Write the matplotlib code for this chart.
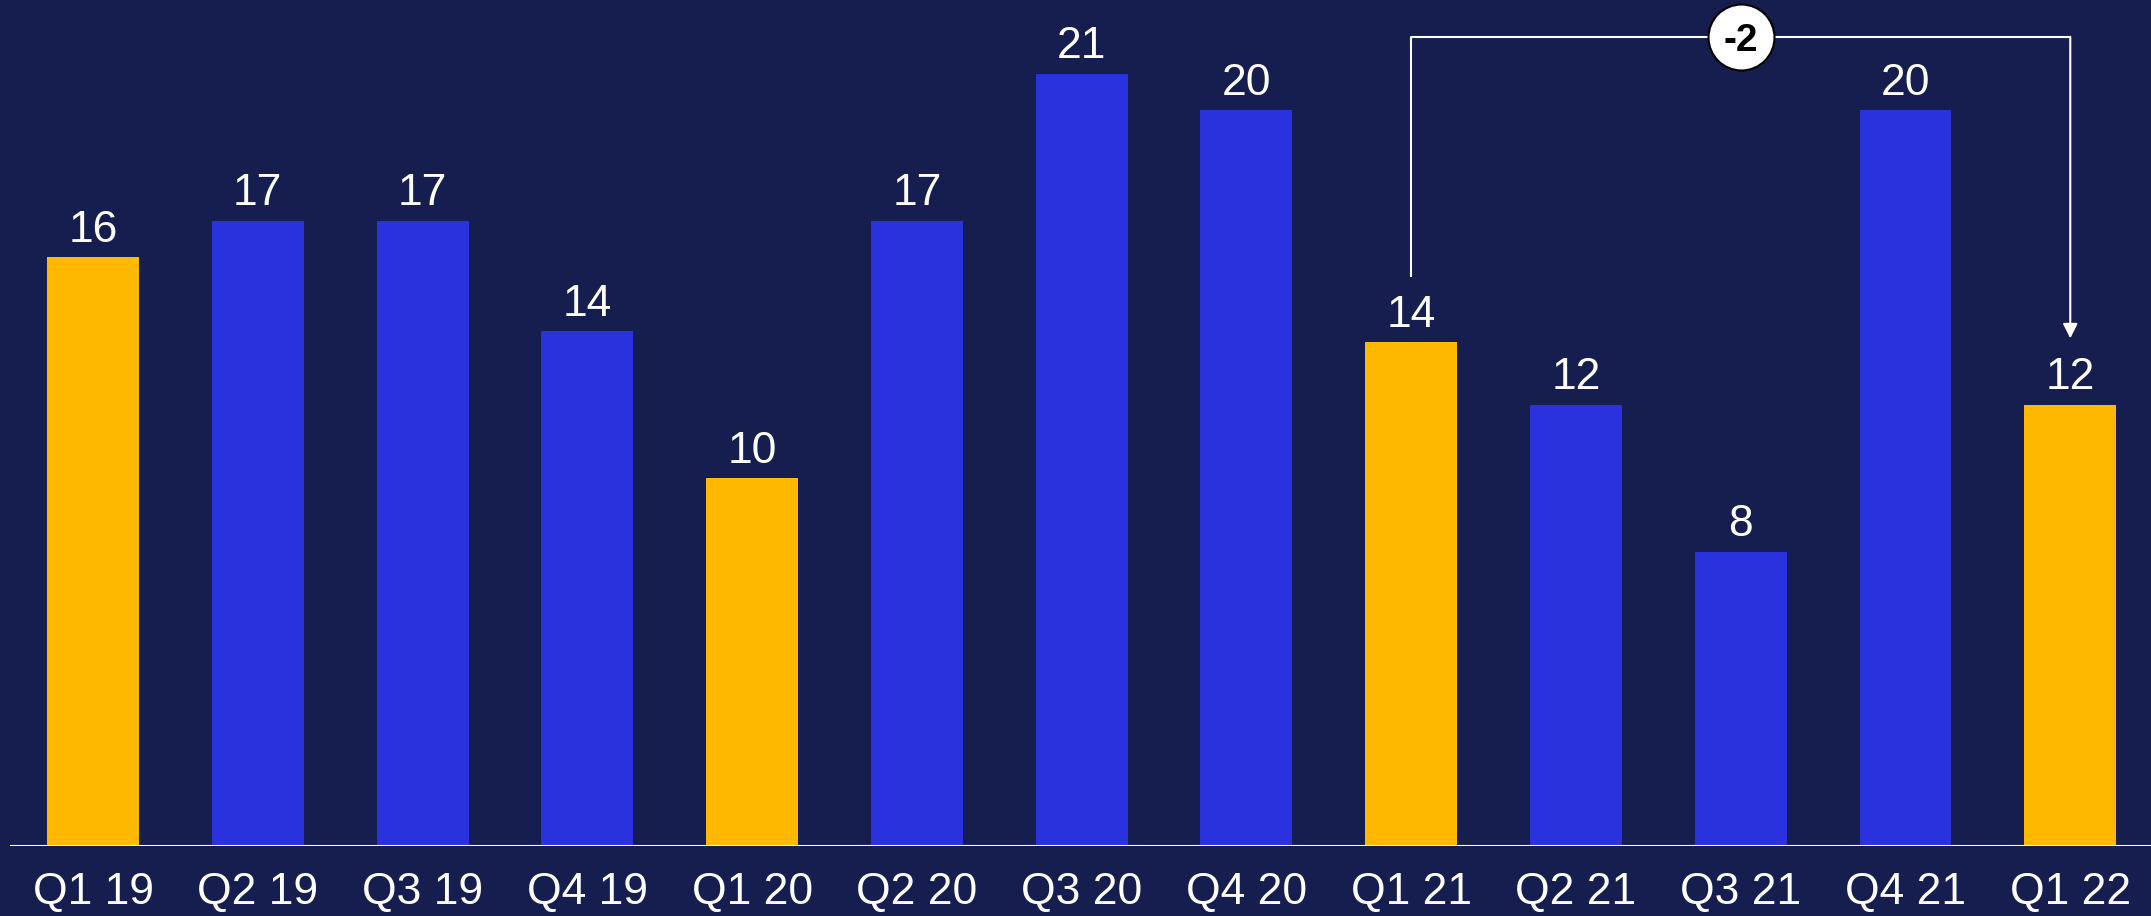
import matplotlib.pyplot as plt

# Данные
quarters = ['Q1 19', 'Q2 19', 'Q3 19', 'Q4 19', 'Q1 20', 'Q2 20', 'Q3 20',
            'Q4 20', 'Q1 21', 'Q2 21', 'Q3 21', 'Q4 21', 'Q1 22']
values = [16, 17, 17, 14, 10, 17, 21, 20, 13.7, 12, 8, 20, 12]
highlight = ['Q1 19', 'Q1 20', 'Q1 21', 'Q1 22']
change_label = '-2'

bg = '#151E4F'
blue = '#2932DC'
yellow = '#FFB800'

plt.rcParams['font.family'] = ['Liberation Sans', 'DejaVu Sans']

fig = plt.figure(figsize=(21.51, 9.16), dpi=100, facecolor=bg)
ax = fig.add_axes([0, 70 / 916, 1, 846 / 916])
ax.set_facecolor(bg)

x = list(range(len(quarters)))
colors = [yellow if q in highlight else blue for q in quarters]
ax.bar(x, values, width=0.558, color=colors, zorder=2)

# подписи значений
for xi, v in zip(x, values):
    ax.annotate(f'{v:.0f}', (xi, v), xytext=(0, 11), textcoords='offset points',
                ha='center', va='baseline', color='white', fontsize=32)

ax.set_xlim(-0.5645, 12.49)
ax.set_ylim(0, 23)
ax.hlines(0, -0.504, 12.49, color='white', lw=1.5, zorder=3)

ax.set_xticks(x)
ax.set_xticklabels(quarters, color='white', fontsize=32)
ax.tick_params(axis='x', length=0, pad=19)
ax.set_yticks([])
for s in ax.spines.values():
    s.set_visible(False)

# скобка сравнения Q1 21 -> Q1 22
i0 = quarters.index('Q1 21')
i1 = quarters.index('Q1 22')
ytop = 22
ax.plot([i0, i0, i1], [15.46, ytop, ytop], color='white', lw=1.5,
        solid_capstyle='butt', zorder=3)
ax.annotate('', xy=(i1, 13.8), xytext=(i1, ytop),
            arrowprops=dict(arrowstyle='-|>', color='white', lw=1.5,
                            mutation_scale=22, shrinkA=0, shrinkB=0))
xm = (i0 + i1) / 2
ax.plot([xm], [ytop], marker='o', markersize=47.5, markerfacecolor='white',
        markeredgecolor='black', markeredgewidth=1.5, zorder=4)
ax.text(xm, ytop, change_label, ha='center', va='center_baseline',
        fontsize=28, fontweight='bold', color='black', zorder=5)

fig.savefig('out.png', dpi=100, facecolor=bg)
